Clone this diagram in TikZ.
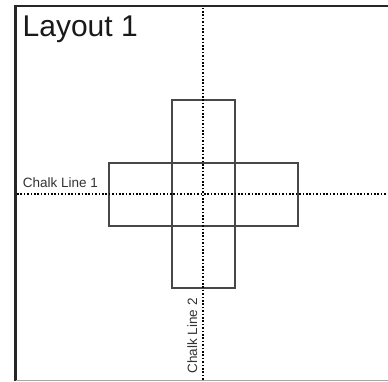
\documentclass[tikz,border=0pt]{standalone}
\usepackage{fontspec}
\setmainfont{Liberation Sans}
\begin{document}
\begin{tikzpicture}[x=1pt,y=-1pt,
  chalk/.style={line width=2pt, black, dash pattern=on 1.6pt off 1.8pt},
  tile/.style={line width=1.7pt, draw=black!72},
  border/.style={line width=2.5pt, black!85},
  lbl/.style={inner sep=0pt, font=\fontsize{13.5}{15}\selectfont, text=black!80}]
\useasboundingbox (0,0) rectangle (388,381);
\fill[white] (0,0) rectangle (388,381);
% borders
\draw[border] (15.5,381) -- (15.5,6) -- (388,6);
\draw[line width=1pt, black!35] (15.5,380.4) -- (388,380.4);
% tiles
\draw[tile] (172,100) rectangle (235,288);
\draw[tile] (109,163) rectangle (298,226);
% chalk lines
\coordinate (c1a) at (17,194.3);
\coordinate (c1b) at (388,194.3);
\coordinate (c2a) at (203.3,7.5);
\coordinate (c2b) at (203.3,381);
\draw[chalk] (c1a) -- (c1b);
\draw[chalk] (c2a) -- (c2b);
% labels
\node[anchor=base west, inner sep=0pt, font=\fontsize{30}{34}\selectfont, text=black!90] (title) at (22.5,36.7) {Layout 1};
\node[lbl, anchor=base west] (l1) at (22.7,187.7) {Chalk Line 1};
\node[lbl, anchor=base west, rotate=90] (l2) at (197,373.5) {Chalk Line 2};
\end{tikzpicture}
\end{document}
